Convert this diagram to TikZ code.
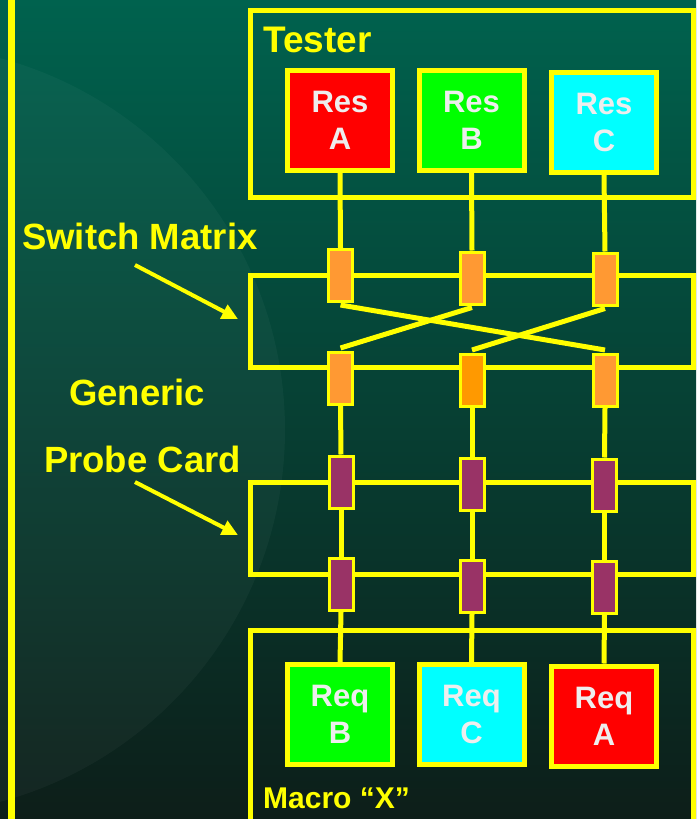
\documentclass[tikz,border=0pt]{standalone}
\usepackage{fontspec}
\setmainfont{Liberation Sans}
\usetikzlibrary{arrows.meta}
\definecolor{bgtop}{RGB}{0,98,78}
\definecolor{bgmid}{RGB}{3,62,46}
\definecolor{bgbot}{RGB}{13,30,25}
\definecolor{ylw}{RGB}{255,255,0}
\definecolor{orng}{RGB}{255,153,51}
\definecolor{orng2}{RGB}{255,153,0}
\definecolor{purp}{RGB}{153,51,102}
\definecolor{txtw}{RGB}{238,238,238}
\definecolor{bxred}{RGB}{255,0,0}
\definecolor{bxgreen}{RGB}{0,255,0}
\definecolor{bxcyan}{RGB}{0,255,255}
\tikzset{
  frame/.style={draw=ylw, line width=5pt},
  resbox/.style={draw=ylw, line width=5pt, minimum width=105pt, minimum height=100pt,
     align=center, text=txtw, font=\bfseries\fontsize{31}{37}\selectfont, inner sep=0pt},
  sw/.style={draw=ylw, line width=3pt, fill=orng, minimum width=24pt, minimum height=52pt, inner sep=0pt},
  pc/.style={draw=ylw, line width=3pt, fill=purp, minimum width=24pt, minimum height=52pt, inner sep=0pt},
  wire/.style={draw=ylw, line width=5pt},
  lbl/.style={text=ylw, font=\bfseries\fontsize{37}{40}\selectfont, inner sep=0pt},
  pointer/.style={draw=ylw, line width=4pt, -{Triangle[length=16pt,width=15pt]}}
}
\begin{document}
\begin{tikzpicture}[x=1pt,y=-1pt]
\useasboundingbox (0,0) rectangle (696,819);
\shade[top color=bgtop, middle color=bgmid, bottom color=bgbot] (0,0) rectangle (696,819);
\begin{scope}
\clip (0,0) rectangle (696,819);
\fill[white, opacity=0.035] (-100,430) circle (385);
\end{scope}
% left rule
\draw[draw=ylw, line width=7pt] (11,0) -- (11,819);
% outer frames
\draw[frame] (250,10) rectangle (693,197);
\draw[frame] (250,275) rectangle (693,367);
\draw[frame] (250,482) rectangle (693,574);
\draw[frame] (250,630) rectangle (693,830);
% labels
\node[lbl, anchor=base west] (tester) at (263,52) {Tester};
\node[lbl, anchor=base west, font=\bfseries\fontsize{30}{34}\selectfont] (macro) at (263,808) {Macro “X”};
\node[lbl, anchor=base west, font=\bfseries\fontsize{36.5}{40}\selectfont] (swlbl) at (22,249) {Switch Matrix};
\node[lbl, anchor=base, font=\bfseries\fontsize{36.5}{40}\selectfont] (gen) at (137,405) {Generic};
\node[lbl, anchor=base, font=\bfseries\fontsize{36.5}{40}\selectfont] (pclbl) at (142.5,472) {Probe Card};
% resource boxes
\node[resbox, fill=bxred] (resA) at (340,120.5) {Res\\A};
\node[resbox, fill=bxgreen] (resB) at (471.5,120.5) {Res\\B};
\node[resbox, fill=bxcyan] (resC) at (604,122.5) {Res\\C};
\node[resbox, fill=bxgreen] (reqB) at (340,714.5) {Req\\B};
\node[resbox, fill=bxcyan] (reqC) at (471.5,714.5) {Req\\C};
\node[resbox, fill=bxred] (reqA) at (604,716) {Req\\A};
% switch elements
\node[sw] (t1) at (340.5,275.5) {};
\node[sw] (t2) at (472,278) {};
\node[sw] (t3) at (605,279) {};
\node[sw] (b1) at (340.5,378.5) {};
\node[sw, fill=orng2] (b2) at (472,380.5) {};
\node[sw] (b3) at (605,380.5) {};
% probe card elements
\node[pc] (p1) at (341,482) {};
\node[pc] (p2) at (472,484) {};
\node[pc] (p3) at (604.5,485) {};
\node[pc] (q1) at (341,584.5) {};
\node[pc] (q2) at (472,586.5) {};
\node[pc] (q3) at (604.5,587) {};
% wires
\draw[wire] (resA.south) -- (t1.north);
\draw[wire] (resB.south) -- (t2.north);
\draw[wire] (resC.south) -- (t3.north);
\draw[wire] ([yshift=-2pt]t1.south) -- ([yshift=3pt]b3.north);
\draw[wire] ([yshift=-2pt]t2.south) -- ([yshift=3pt]b1.north);
\draw[wire] ([yshift=-2pt]t3.south) -- ([yshift=3pt]b2.north);
\draw[wire] (b1.south) -- (p1.north);
\draw[wire] (b2.south) -- (p2.north);
\draw[wire] (b3.south) -- (p3.north);
\draw[wire] (p1.south) -- (q1.north);
\draw[wire] (p2.south) -- (q2.north);
\draw[wire] (p3.south) -- (q3.north);
\draw[wire] (q1.south) -- (reqB.north);
\draw[wire] (q2.south) -- (reqC.north);
\draw[wire] (q3.south) -- (reqA.north);
% pointers
\coordinate (a1s) at (135,265);
\coordinate (a1e) at (238,319);
\coordinate (a2s) at (135,482);
\coordinate (a2e) at (238,535);
\draw[pointer] (a1s) -- (a1e);
\draw[pointer] (a2s) -- (a2e);
\end{tikzpicture}
\end{document}
